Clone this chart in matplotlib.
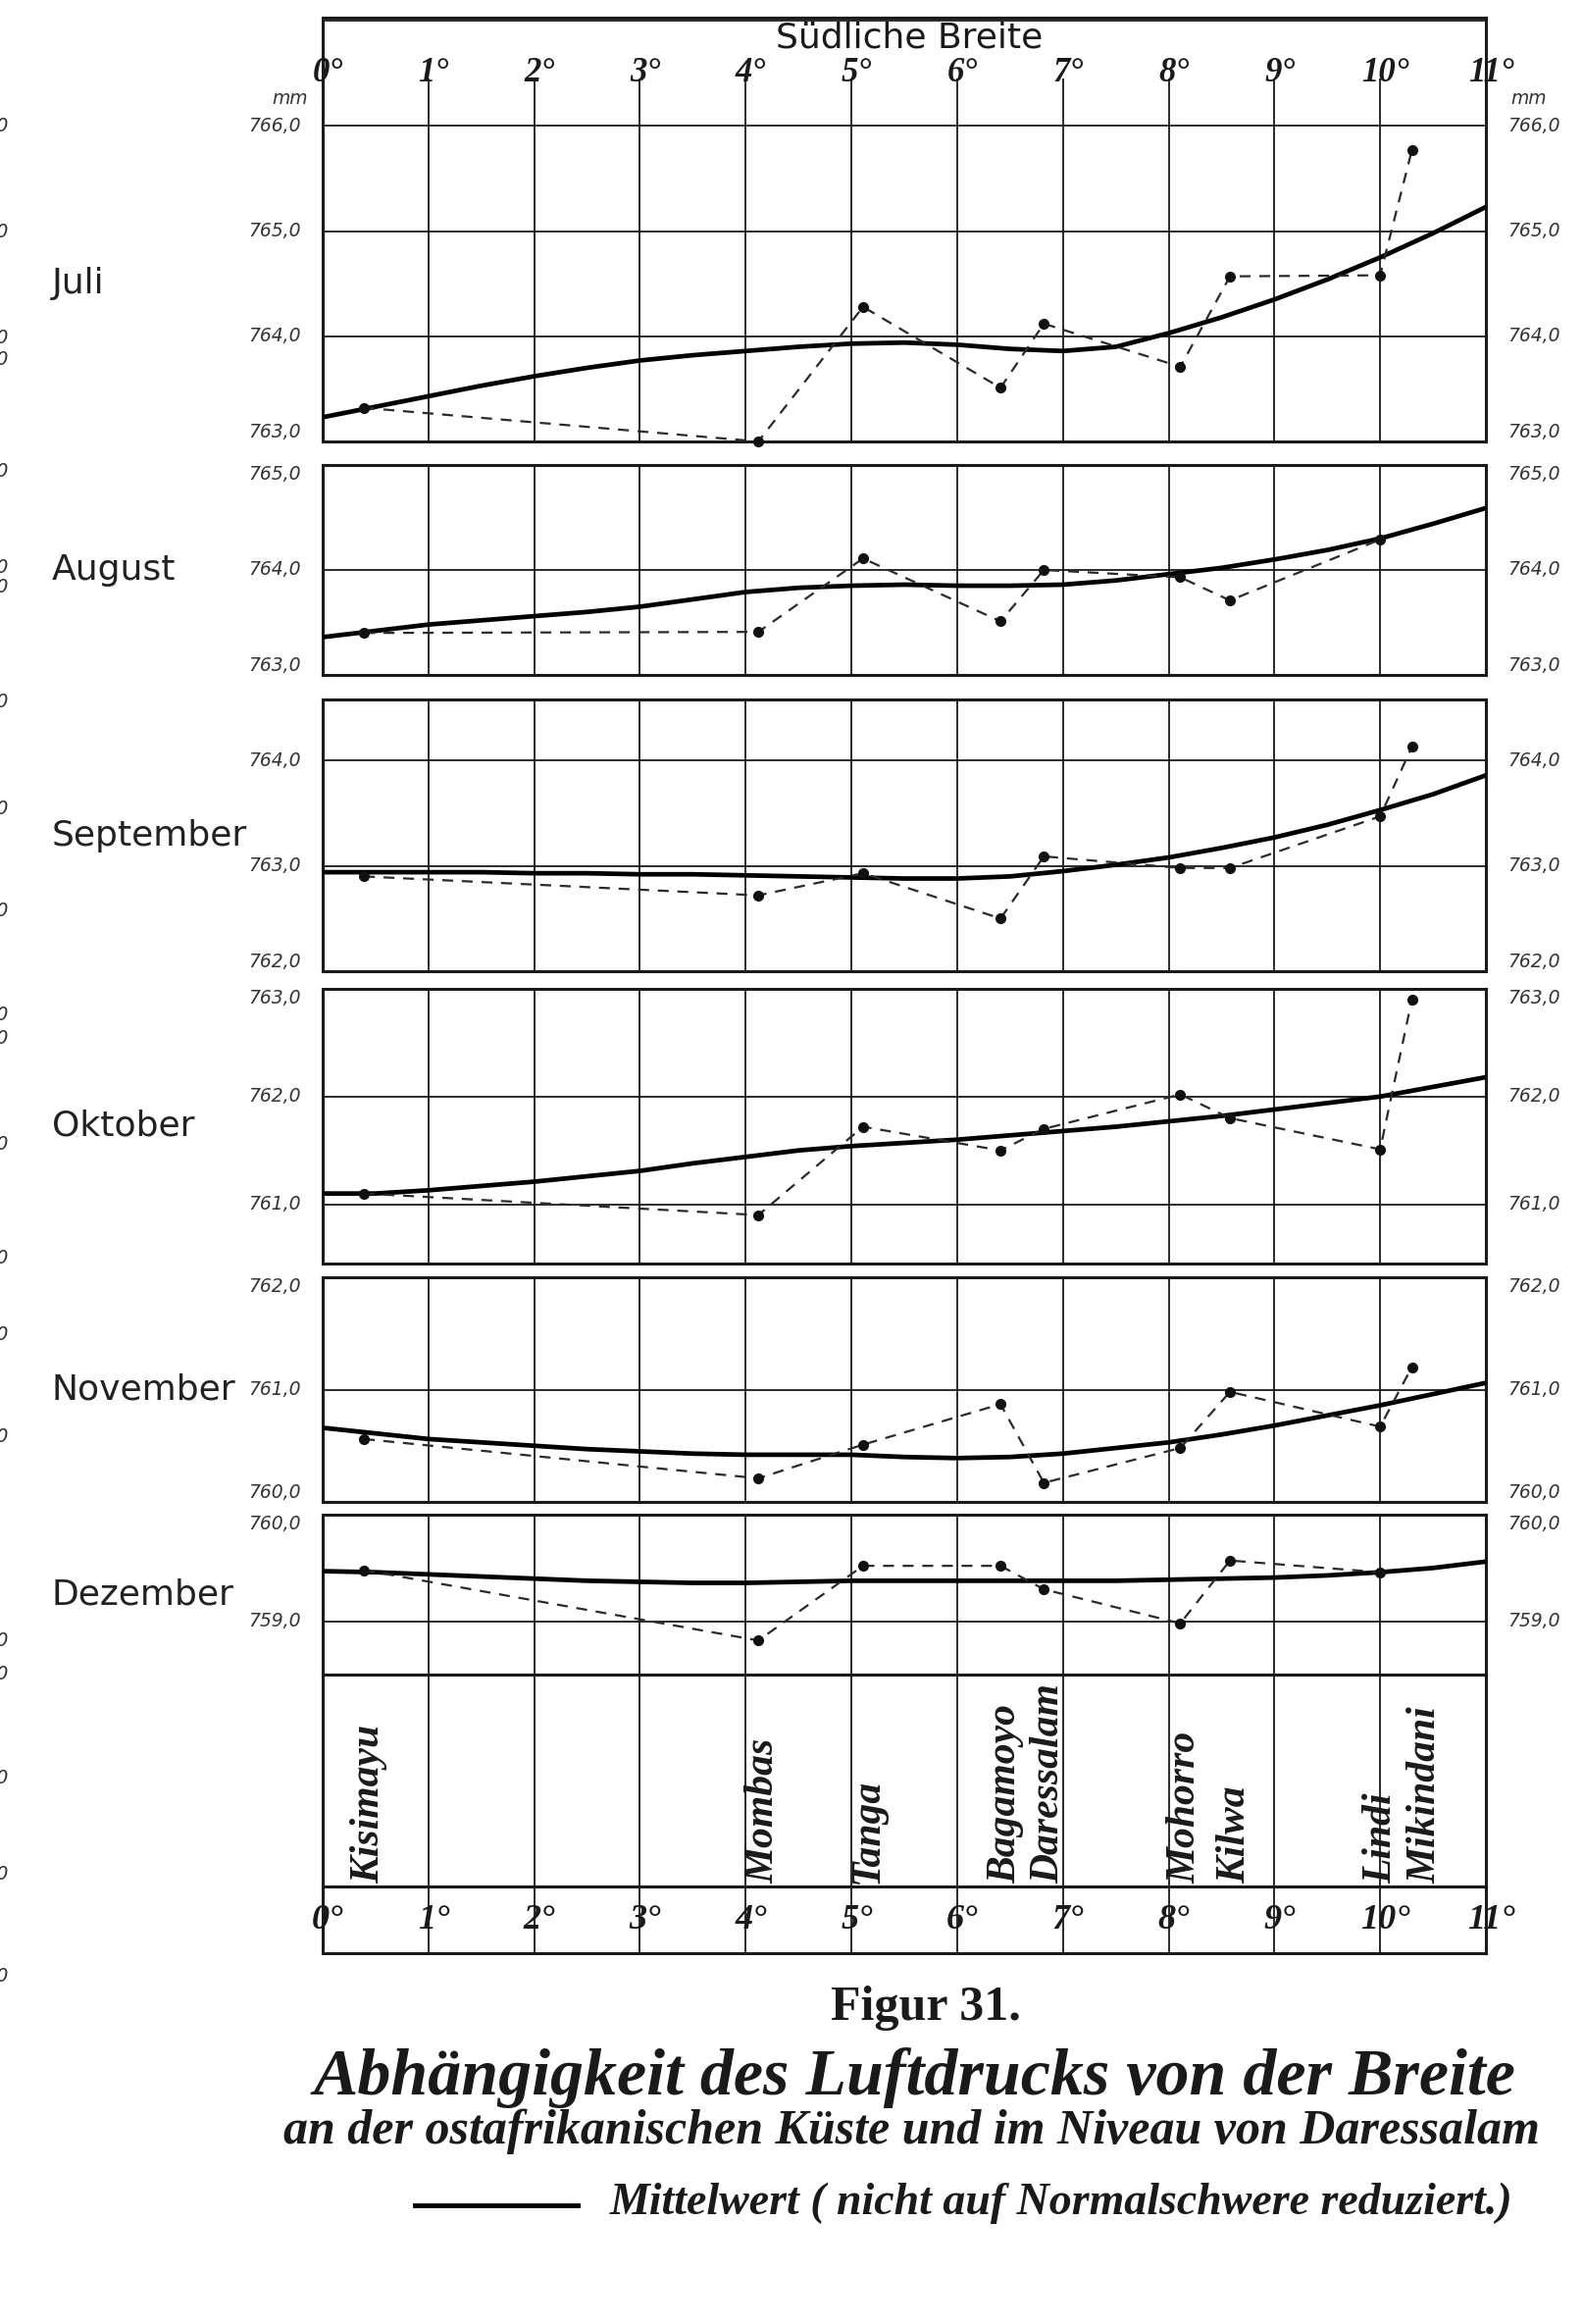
import numpy as np
import matplotlib
matplotlib.use("Agg")
import matplotlib.pyplot as plt

W, H = 1615, 2369
DPI = 100

# --- data -------------------------------------------------------------
months = ["Juli", "August", "September", "Oktober", "November", "Dezember"]
stations = ["Kisimayu", "Mombas", "Tanga", "Bagamoyo", "Daressalam",
            "Mohorro", "Kilwa", "Lindi", "Mikindani"]
station_lat = [0.39, 4.12, 5.11, 6.41, 6.82, 8.11, 8.58, 10.0, 10.3]

nan = np.nan
obs_juli = [763.32, 763.0, 764.28, 763.51, 764.12, 763.71, 764.57, 764.58, 765.77]
obs_aug = [763.40, 763.41, 764.11, 763.51, 764.0, 763.93, 763.71, 764.29, nan]
obs_sep = [762.90, 762.72, 762.93, 762.50, 763.09, 762.98, 762.98, 763.47, 764.13]
obs_okt = [761.10, 760.90, 761.72, 761.50, 761.70, 762.02, 761.80, 761.51, 762.90]
obs_nov = [760.56, 760.21, 760.51, 760.87, 760.17, 760.48, 760.98, 760.67, 761.20]
obs_dez = [759.48, 758.82, 759.52, 759.52, 759.30, 758.98, 759.57, 759.46, nan]

# Mittelwert curve, read every half degree
mean_lat = [0, 0.5, 1, 1.5, 2, 2.5, 3, 3.5, 4, 4.5, 5, 5.5,
            6, 6.5, 7, 7.5, 8, 8.5, 9, 9.5, 10, 10.5, 11]
mean_juli = [763.23, 763.33, 763.43, 763.53, 763.62, 763.70, 763.77, 763.82,
             763.86, 763.90, 763.93, 763.94, 763.92, 763.88, 763.86, 763.90,
             764.03, 764.18, 764.35, 764.54, 764.75, 764.98, 765.23]
mean_aug = [763.36, 763.42, 763.48, 763.52, 763.56, 763.60, 763.65, 763.72,
            763.79, 763.83, 763.85, 763.86, 763.85, 763.85, 763.86, 763.90,
            763.96, 764.02, 764.10, 764.19, 764.30, 764.44, 764.59]
mean_sep = [762.94, 762.94, 762.94, 762.94, 762.93, 762.93, 762.92, 762.92,
            762.91, 762.90, 762.89, 762.88, 762.88, 762.90, 762.95, 763.01,
            763.08, 763.17, 763.27, 763.39, 763.53, 763.68, 763.86]
mean_okt = [761.10, 761.10, 761.13, 761.17, 761.21, 761.26, 761.31, 761.38,
            761.44, 761.50, 761.54, 761.57, 761.60, 761.64, 761.68, 761.72,
            761.77, 761.82, 761.88, 761.94, 762.00, 762.09, 762.18]
mean_nov = [760.66, 760.61, 760.56, 760.53, 760.50, 760.47, 760.45, 760.43,
            760.42, 760.42, 760.42, 760.40, 760.39, 760.40, 760.43, 760.48,
            760.53, 760.60, 760.68, 760.77, 760.86, 760.96, 761.06]
mean_dez = [759.47, 759.46, 759.44, 759.42, 759.40, 759.38, 759.37, 759.36,
            759.36, 759.37, 759.38, 759.38, 759.38, 759.38, 759.38, 759.38,
            759.39, 759.40, 759.41, 759.43, 759.46, 759.50, 759.56]

observations = [obs_juli, obs_aug, obs_sep, obs_okt, obs_nov, obs_dez]
means = [mean_juli, mean_aug, mean_sep, mean_okt, mean_nov, mean_dez]
mm_ticks = [[763, 764, 765, 766], [763, 764, 765], [762, 763, 764],
            [761, 762, 763], [760, 761, 762], [759, 760]]
degrees = list(range(12))

# --- layout (pixels) ----------------------------------------------------
L, R = 329, 1515
panels = [  # top, bottom, ymin, ymax
    (18, 450, 763.0, 767.03),
    (474, 688, 763.0, 765.0),
    (713, 990, 762.0, 764.58),
    (1008, 1288, 760.45, 763.0),
    (1302, 1531, 760.0, 762.0),
    (1544, 1707, 758.5, 760.0),
]
# small sideways nudge of the station names so Lindi/Mikindani don't collide
name_nudge = {"Lindi": -0.04, "Mikindani": 0.08}

INK = "#1a1a1a"
LABEL = "#333333"
SERIF = "Liberation Serif"


def add_ax(top, bottom):
    return fig.add_axes([L / W, 1 - bottom / H, (R - L) / W, (bottom - top) / H])


def ftext(x, y, s, **kw):
    return fig.text(x / W, 1 - y / H, s, **kw)


def style_frame(ax):
    for sp in ax.spines.values():
        sp.set_linewidth(2.2)
        sp.set_color(INK)
    ax.set_xlim(0, 11)
    ax.set_xticks([])


fig = plt.figure(figsize=(W / DPI, H / DPI), dpi=DPI)
fig.patch.set_facecolor("white")

for i, (top, bottom, y0, y1) in enumerate(panels):
    ax = add_ax(top, bottom)
    style_frame(ax)
    ax.set_ylim(y0, y1)
    # grid
    vtop = 766.45 if i == 0 else y1
    ax.vlines(range(1, 11), y0, vtop, color=INK, lw=1.3)
    inner = [t for t in range(int(np.ceil(y0)), int(np.floor(y1)) + 1) if y0 < t < y1]
    ax.hlines(inner, 0, 11, color=INK, lw=1.3)
    # series
    ax.plot(mean_lat, means[i], color="black", lw=3.4, solid_capstyle="round", zorder=4)
    obs = np.array(observations[i], dtype=float)
    ok = ~np.isnan(obs)
    ax.plot(np.array(station_lat)[ok], obs[ok], color="#2a2a2a", lw=1.6,
            dashes=(5, 4), marker="o", ms=7, mfc="#111111", mec="#111111",
            zorder=5, clip_on=False)
    # mm tick labels on both sides
    ticks = mm_ticks[i]
    ax.set_yticks(ticks)
    ax.set_yticklabels([f"{t:.1f}".replace(".", ",") for t in ticks],
                       fontstyle="italic", fontsize=13.5, color=LABEL)
    ax.tick_params(axis="y", length=0, pad=16, labelleft=True, labelright=True)
    # labels sitting on the frame are pulled inside the panel's height
    for tick in ax.yaxis.get_major_ticks():
        val = tick.get_loc()
        va = "center"
        if abs(val - y0) < 1e-6:
            va = "bottom"
        elif abs(val - y1) < 0.05:
            va = "top"
        tick.label1.set_va(va)
        tick.label2.set_va(va)
    # month name
    mid = (top + bottom) / 2 if i > 0 else (128 + bottom) / 2
    ftext(53, mid, months[i], fontsize=26, color="#222222", ha="left", va="center")

    if i == 0:
        for d in degrees:
            ax.text(d + 0.05, 766.5, f"{d}°", ha="center", va="center",
                    family=SERIF, fontstyle="italic", fontweight="bold",
                    fontsize=25, color=INK)
        ax.text(5.55, 766.75, "Südliche Breite", ha="center", va="baseline",
                fontsize=26, color=INK)

ftext(314, 101, "mm", ha="right", va="center", fontstyle="italic", fontsize=13.5, color=LABEL)
ftext(1540, 101, "mm", ha="left", va="center", fontstyle="italic", fontsize=13.5, color=LABEL)

# station name strip
axs = add_ax(1707, 1923)
style_frame(axs)
axs.set_ylim(0, 1)
axs.set_yticks([])
axs.vlines(range(1, 11), 0, 1, color=INK, lw=1.3)
for name, lat in zip(stations, station_lat):
    axs.text(lat + 0.05 + name_nudge.get(name, 0), 0.015, name, rotation=90,
             ha="center", va="bottom", family=SERIF, fontstyle="italic",
             fontweight="bold", fontsize=30, color=INK)

# degree row
axd = add_ax(1923, 1991)
style_frame(axd)
axd.set_ylim(0, 1)
axd.set_yticks([])
axd.vlines(range(1, 11), 0, 1, color=INK, lw=1.3)
for d in degrees:
    axd.text(d + 0.05, 0.5, f"{d}°", ha="center", va="center",
             family=SERIF, fontstyle="italic", fontweight="bold",
             fontsize=26, color=INK)

# captions
ftext(944, 2047, "Figur 31.", ha="center", va="center", family=SERIF,
      fontweight="bold", fontsize=36, color=INK)
ftext(932, 2118, "Abhängigkeit des Luftdrucks von der Breite", ha="center",
      va="center", family=SERIF, fontstyle="italic", fontweight="bold",
      fontsize=49, color=INK)
ftext(929, 2173, "an der ostafrikanischen Küste und im Niveau von Daressalam",
      ha="center", va="center", family=SERIF, fontstyle="italic",
      fontweight="bold", fontsize=36, color=INK)
fig.add_artist(plt.Line2D([423 / W, 589 / W], [1 - 2248 / H, 1 - 2248 / H],
                          color="black", lw=3.5))
ftext(622, 2246, "Mittelwert ( nicht auf Normalschwere reduziert.)", ha="left",
      va="center", family=SERIF, fontstyle="italic", fontweight="bold",
      fontsize=33, color=INK)

# bits of the neighbouring page at the left edge
for y in [128, 237, 345, 366, 480, 579, 598, 716, 824, 929, 1035, 1058,
          1166, 1283, 1360, 1464, 1673, 1707, 1813, 1911, 2014]:
    ftext(-5, y, "0", ha="left", va="center", fontstyle="italic",
          fontsize=14, color=LABEL)

fig.savefig("out.png", dpi=DPI, facecolor="white")
